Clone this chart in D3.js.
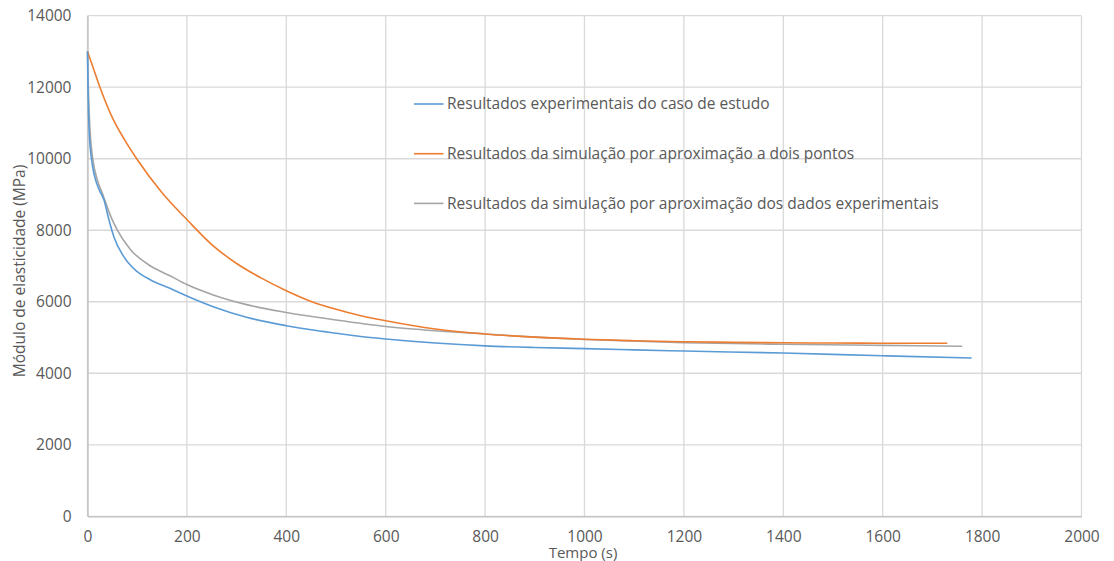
<!DOCTYPE html>
<html>
<head>
<meta charset="utf-8">
<script src="https://cdn.jsdelivr.net/npm/d3@7/dist/d3.min.js"></script>
<style>
  html, body { margin: 0; padding: 0; background: #fff; }
  svg { display: block; }
  text { font-family: "Open Sans", "Liberation Sans", sans-serif; fill: #595959; }
</style>
</head>
<body>
<svg id="chart" width="1114" height="561"></svg>
<script>
// Elastic modulus (MPa) over time (s)
const xTicks = [0, 200, 400, 600, 800, 1000, 1200, 1400, 1600, 1800, 2000];
const yTicks = [0, 2000, 4000, 6000, 8000, 10000, 12000, 14000];

const seriesNames = [
  "Resultados experimentais do caso de estudo",
  "Resultados da simulação por aproximação a dois pontos",
  "Resultados da simulação por aproximação dos dados experimentais"
];
const seriesColors = ["#5b9bd5", "#ed7d31", "#a5a5a5"];

// Experimental results
const expTime  = [0, 1, 2, 4, 8, 12, 16, 23, 33, 43, 53, 73, 100, 127, 167, 200, 253, 320, 400, 450, 500, 550, 600, 700, 800, 900, 1000, 1100, 1200, 1400, 1600, 1779];
const expValue = [13000, 12000, 11300, 10600, 10000, 9650, 9420, 9150, 8850, 8300, 7820, 7260, 6840, 6610, 6370, 6160, 5860, 5565, 5330, 5215, 5120, 5030, 4960, 4845, 4765, 4720, 4690, 4655, 4622, 4565, 4490, 4427];

// Two-point approximation simulation
const twoPtTime  = [0, 10, 25, 50, 75, 100, 150, 200, 250, 300, 350, 400, 450, 500, 550, 600, 700, 800, 900, 1000, 1100, 1200, 1300, 1400, 1500, 1600, 1730];
const twoPtValue = [13000, 12600, 12000, 11150, 10520, 9980, 9050, 8300, 7600, 7070, 6660, 6310, 6010, 5790, 5610, 5470, 5240, 5100, 5010, 4950, 4910, 4882, 4865, 4852, 4845, 4840, 4838];

// Simulation fitted to experimental data
const fitTime  = [0, 2, 5, 10, 20, 30, 47, 60, 87, 127, 167, 200, 253, 320, 400, 500, 600, 700, 800, 900, 1000, 1200, 1400, 1600, 1760];
const fitValue = [13000, 11800, 10800, 10050, 9400, 9030, 8380, 8000, 7450, 7000, 6720, 6480, 6190, 5920, 5700, 5490, 5310, 5190, 5100, 5010, 4945, 4852, 4810, 4780, 4754];

const svg = d3.select("#chart");
const plotLeft = 87.5, plotRight = 1081.5, plotTop = 15.7, plotBottom = 516.3;

const x = d3.scaleLinear().domain([0, 2000]).range([plotLeft, plotRight]);
const y = d3.scaleLinear().domain([0, 14000]).range([plotBottom, plotTop]);

// Gridlines
const grid = svg.append("g");
grid.selectAll("line.h").data(yTicks).join("line")
  .attr("class", "h")
  .attr("x1", plotLeft).attr("x2", plotRight)
  .attr("y1", d => y(d)).attr("y2", d => y(d))
  .attr("stroke", "#d9d9d9").attr("stroke-width", 1.3);
grid.selectAll("line.v").data(xTicks).join("line")
  .attr("class", "v")
  .attr("y1", plotTop).attr("y2", plotBottom)
  .attr("x1", d => x(d)).attr("x2", d => x(d))
  .attr("stroke", "#d9d9d9").attr("stroke-width", 1.3);

// Axes
const xAxis = d3.axisBottom(x).tickValues(xTicks).tickSize(0).tickPadding(18).tickFormat(d3.format("d"));
const yAxis = d3.axisLeft(y).tickValues(yTicks).tickSize(0).tickPadding(16).tickFormat(d3.format("d"));

const gx = svg.append("g").attr("transform", `translate(0,${plotBottom})`).call(xAxis);
const gy = svg.append("g").attr("transform", `translate(${plotLeft},0)`).call(yAxis);
[gx, gy].forEach(g => {
  g.select(".domain").attr("stroke", "#bfbfbf").attr("stroke-width", 1.3);
  g.selectAll("text").style("font-size", "15.5px").attr("fill", "#595959")
    .style("font-family", '"Open Sans", sans-serif');
});
gx.selectAll("text").attr("dy", "0.5em");

// Series lines
const line = d3.line().x(d => x(d[0])).y(d => y(d[1])).curve(d3.curveMonotoneX);
const series = [
  { name: seriesNames[0], color: seriesColors[0], pts: d3.zip(expTime, expValue) },
  { name: seriesNames[1], color: seriesColors[1], pts: d3.zip(twoPtTime, twoPtValue) },
  { name: seriesNames[2], color: seriesColors[2], pts: d3.zip(fitTime, fitValue) }
];
// gray first, then orange, then blue on top
[series[2], series[1], series[0]].forEach(s => {
  svg.append("path").datum(s.pts)
    .attr("d", line)
    .attr("fill", "none")
    .attr("stroke", s.color)
    .attr("stroke-width", 1.6)
    .attr("stroke-linejoin", "round");
});

// Legend
const legend = svg.append("g");
series.forEach((s, i) => {
  const ly = 104 + i * 49.7;
  legend.append("line")
    .attr("x1", 414).attr("x2", 443.5).attr("y1", ly).attr("y2", ly)
    .attr("stroke", s.color).attr("stroke-width", 1.6);
  legend.append("text")
    .attr("x", 447).attr("y", ly).attr("dy", "0.35em")
    .style("font-size", "15.5px")
    .text(s.name);
});

// Axis titles
svg.append("text")
  .attr("x", 583).attr("y", 553).attr("dy", "0.35em")
  .attr("text-anchor", "middle")
  .style("font-size", "15px")
  .text("Tempo (s)");

svg.append("text")
  .attr("transform", `translate(20,271) rotate(-90)`)
  .attr("dy", "0.35em")
  .attr("text-anchor", "middle")
  .style("font-size", "15.5px")
  .text("Módulo de elasticidade (MPa)");
</script>
</body>
</html>
